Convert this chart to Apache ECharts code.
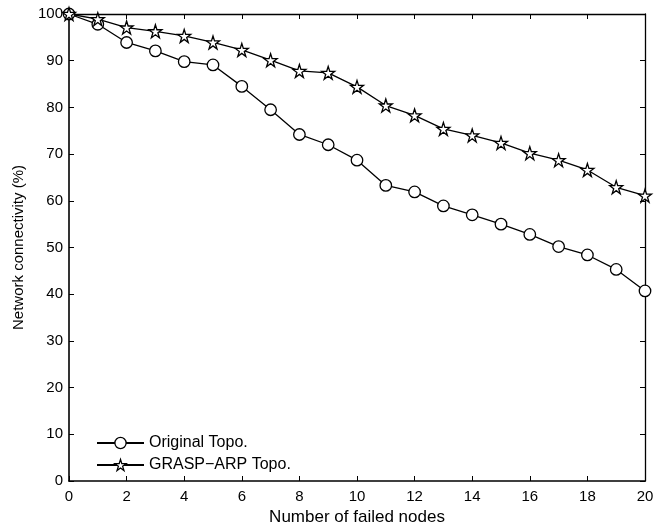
<!DOCTYPE html>
<html><head><meta charset="utf-8">
<script src="https://cdn.jsdelivr.net/npm/echarts@6/dist/echarts.min.js"></script>
<style>html,body{margin:0;padding:0;background:#fff}#c{width:654px;height:527px}</style>
</head><body><div id="c"></div>
<script>
const failedNodes = [0,1,2,3,4,5,6,7,8,9,10,11,12,13,14,15,16,17,18,19,20];
const originalTopo = [100,97.8,93.9,92.1,89.8,89.1,84.5,79.5,74.2,72.0,68.7,63.3,61.9,58.9,57.0,55.0,52.8,50.2,48.4,45.3,40.7];
const graspArpTopo = [100,98.9,97.1,96.3,95.3,93.9,92.3,90.1,87.8,87.4,84.4,80.4,78.3,75.4,74.0,72.4,70.2,68.7,66.6,62.9,61.1];
const seriesNames = ['Original Topo.','GRASP\u2212ARP Topo.'];
const xTicks = [0,20,2];
const yTicks = [0,100,10];

const starPath = 'path://M50,2 L61.2,36.6 L97.6,36.6 L68.2,58 L79.4,92.6 L50,71.2 L20.6,92.6 L31.8,58 L2.4,36.6 L38.8,36.6 Z';
const font = 'Liberation Sans, Arial, sans-serif';
const chart = echarts.init(document.getElementById('c'));
function axisStyle(w){
  return {
    axisLine:{show:true,onZero:false,lineStyle:{color:'#000',width:w}},
    axisTick:{show:true,inside:true,length:5,lineStyle:{color:'#000',width:1}},
    splitLine:{show:false}
  };
}
const markerStyle = {color:'#fff',borderColor:'#000',borderWidth:1.3};
chart.setOption({
  animation:false,
  backgroundColor:'#fff',
  grid:{left:69,right:9,top:14,bottom:46,containLabel:false,outerBoundsMode:'none'},
  legend:{
    left:91, top:430, orient:'vertical', itemWidth:47, itemHeight:14, itemGap:6,
    textStyle:{fontFamily:font,fontSize:16,color:'#000',lineHeight:14},
    data:[
      {name:seriesNames[0],itemStyle:markerStyle},
      {name:seriesNames[1],itemStyle:markerStyle}
    ]
  },
  xAxis:[
    Object.assign({type:'value',min:xTicks[0],max:xTicks[1],interval:xTicks[2],position:'bottom',
      name:'Number of failed nodes',nameLocation:'middle',nameGap:27,
      nameTextStyle:{fontFamily:font,fontSize:17,color:'#000'},
      axisLabel:{fontFamily:font,fontSize:15,color:'#000',margin:8}},axisStyle(1.6)),
    Object.assign({type:'value',min:xTicks[0],max:xTicks[1],interval:xTicks[2],position:'top',
      axisLabel:{show:false}},axisStyle(1.3))
  ],
  yAxis:[
    Object.assign({type:'value',min:yTicks[0],max:yTicks[1],interval:yTicks[2],position:'left',
      name:'Network connectivity (%)',nameLocation:'middle',nameGap:43,nameRotate:90,
      nameTextStyle:{fontFamily:font,fontSize:15,color:'#000'},
      axisLabel:{fontFamily:font,fontSize:15,color:'#000',margin:6}},axisStyle(1.6)),
    Object.assign({type:'value',min:yTicks[0],max:yTicks[1],interval:yTicks[2],position:'right',
      axisLabel:{show:false}},axisStyle(1.3))
  ],
  series:[
    {name:seriesNames[0],type:'line',xAxisIndex:0,yAxisIndex:0,
     data:failedNodes.map((x,i)=>[x,originalTopo[i]]),
     symbol:'circle',symbolSize:11.5,showAllSymbol:true,
     lineStyle:{color:'#000',width:1.3},
     itemStyle:markerStyle},
    {name:seriesNames[1],type:'line',xAxisIndex:0,yAxisIndex:0,
     data:failedNodes.map((x,i)=>[x,graspArpTopo[i]]),
     symbol:starPath,symbolSize:13,showAllSymbol:true,
     lineStyle:{color:'#000',width:1.3},
     itemStyle:markerStyle}
  ]
});
</script></body></html>
